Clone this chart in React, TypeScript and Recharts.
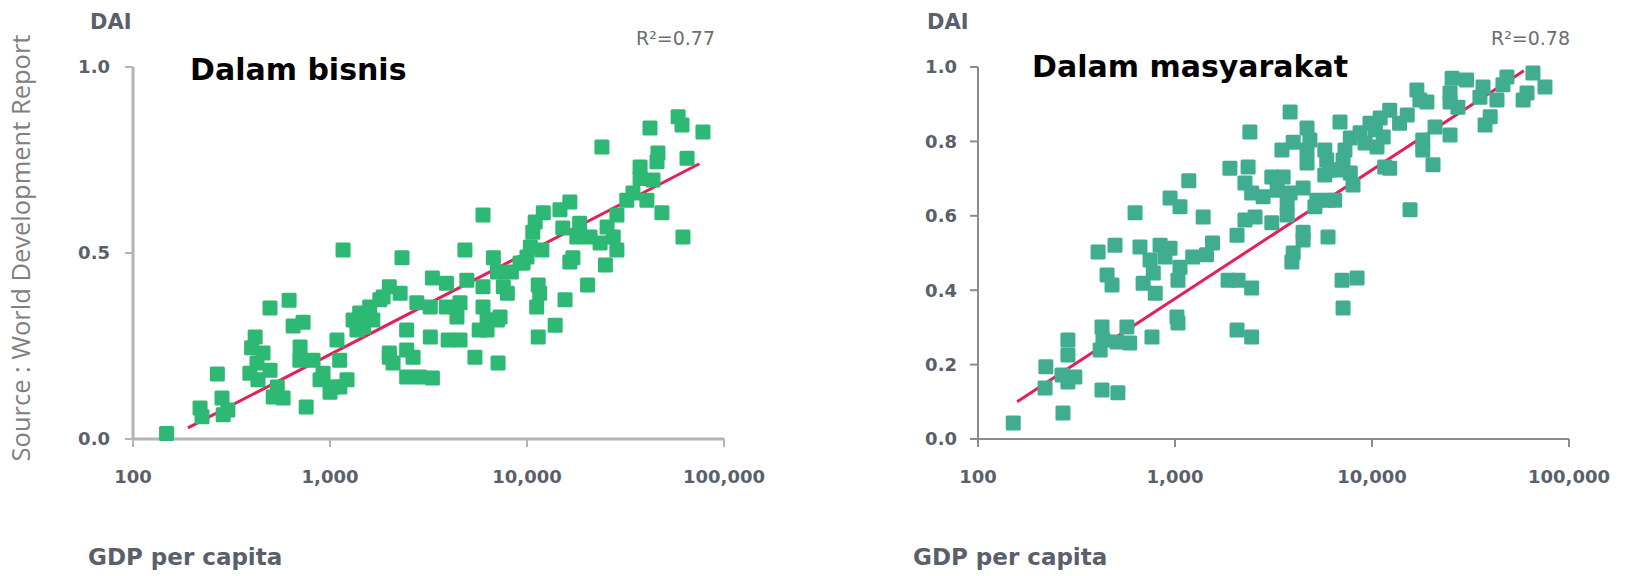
import { ScatterChart, Scatter, XAxis, YAxis, ReferenceLine } from 'recharts';

// GDP per capita axis (log) and DAI axis ticks
const xTicks = [100, 1000, 10000, 100000];
const bisnisYTicks = [0, 0.5, 1];
const masyarakatYTicks = [0, 0.2, 0.4, 0.6, 0.8, 1];

// Dalam bisnis
const bisnisGdp = [
  148, 219, 283, 268, 303, 287, 224, 417, 400, 426,
  431, 496, 620, 650, 730, 705, 496, 515, 578, 540,
  757, 820, 922, 1035, 1085, 1120, 1220, 1165, 1415, 1370,
  1590, 1790, 2000, 2270, 2320, 2000, 2090, 2450, 2860, 3310,
  2450, 2760, 3230, 3310, 3230, 1480, 2640, 457, 392, 703,
  890, 1122, 1000, 1310, 1650, 1860, 2450, 2000, 5720, 7300,
  58500, 61200, 78200, 42100, 24000, 46200, 45700, 64900, 37500, 37500,
  43600, 34500, 40600, 48400, 61900, 32100, 28600, 25500, 27400, 28600,
  25000, 23500, 20900, 18500, 16500, 14700, 12100, 11000, 10700, 15200,
  17900, 17100, 16500, 20300, 15600, 13900, 11400, 11200, 11600, 11400,
  10000, 10400, 9550, 11900, 5980, 4840, 6750, 7080, 8330, 9220,
  3900, 4950, 5980, 7580, 7950, 3900, 4570, 4410, 5980, 6270,
  7080, 6270, 3980, 4570, 5440, 7130,
];
const bisnisDai = [
  0.015, 0.083, 0.11, 0.175, 0.078, 0.065, 0.06, 0.274, 0.245, 0.204,
  0.159, 0.352, 0.373, 0.304, 0.314, 0.247, 0.185, 0.113, 0.11, 0.14,
  0.086, 0.212, 0.177, 0.14, 0.266, 0.212, 0.159, 0.508, 0.339, 0.293,
  0.355, 0.374, 0.409, 0.392, 0.487, 0.231, 0.204, 0.167, 0.167, 0.164,
  0.239, 0.366, 0.274, 0.433, 0.355, 0.301, 0.22, 0.231, 0.177, 0.212,
  0.159, 0.14, 0.126, 0.32, 0.32, 0.382, 0.293, 0.22, 0.293, 0.328,
  0.866, 0.844, 0.825, 0.836, 0.785, 0.769, 0.745, 0.755, 0.731, 0.7,
  0.696, 0.661, 0.642, 0.608, 0.543, 0.642, 0.602, 0.57, 0.543, 0.508,
  0.468, 0.527, 0.543, 0.58, 0.637, 0.616, 0.608, 0.583, 0.556, 0.567,
  0.543, 0.487, 0.476, 0.414, 0.374, 0.306, 0.274, 0.355, 0.392, 0.414,
  0.489, 0.516, 0.473, 0.508, 0.602, 0.508, 0.487, 0.449, 0.449, 0.473,
  0.419, 0.427, 0.409, 0.409, 0.392, 0.355, 0.366, 0.328, 0.355, 0.32,
  0.32, 0.293, 0.266, 0.266, 0.22, 0.204,
];
const bisnisTrendGdp = [190, 75000];
const bisnisTrendDai = [0.03, 0.74];

// Dalam masyarakat
const masyarakatGdp = [
  151, 270, 219, 221, 286, 286, 310, 286, 267, 426,
  513, 426, 431, 417, 507, 589, 570, 764, 1023, 1035,
  2065, 407, 496, 452, 479, 664, 840, 944, 689, 794,
  776, 747, 1060, 1035, 1230, 1445, 1550, 1860, 627, 944,
  1060, 1175, 1390, 1900, 2350, 2265, 2450, 3100, 3300, 2265,
  2550, 3100, 2065, 890, 2090, 2450, 2450, 65600, 75500, 61200,
  58500, 48400, 46200, 43100, 36600, 35300, 37500, 39800, 30200, 25500,
  24900, 24900, 27300, 16900, 17500, 19000, 12300, 11000, 15100, 13800,
  20900, 24900, 18100, 18100, 20400, 11400, 10400, 9770, 10600, 11600,
  9220, 7760, 6880, 8700, 7290, 7130, 5890, 6120, 4680, 4680,
  4680, 3840, 3490, 3980, 4840, 5760, 7760, 8010, 6720, 5760,
  3540, 3840, 4470, 3710, 2800, 3710, 5250, 5980, 6460, 5130,
  4470, 4470, 5980, 3980, 3920, 15600, 12300, 7050, 8400, 7130,
  2400,
];
const masyarakatDai = [
  0.043, 0.07, 0.137, 0.194, 0.226, 0.266, 0.167, 0.153, 0.172, 0.132,
  0.124, 0.301, 0.266, 0.239, 0.261, 0.258, 0.301, 0.274, 0.328, 0.312,
  0.293, 0.503, 0.521, 0.441, 0.414, 0.516, 0.521, 0.513, 0.419, 0.392,
  0.446, 0.481, 0.462, 0.427, 0.489, 0.495, 0.527, 0.427, 0.608, 0.648,
  0.624, 0.694, 0.597, 0.728, 0.731, 0.688, 0.661, 0.704, 0.669, 0.589,
  0.597, 0.581, 0.548, 0.489, 0.427, 0.406, 0.274, 0.984, 0.946, 0.93,
  0.911, 0.973, 0.952, 0.911, 0.946, 0.919, 0.844, 0.866, 0.965, 0.97,
  0.93, 0.906, 0.892, 0.938, 0.911, 0.906, 0.884, 0.863, 0.871, 0.849,
  0.839, 0.817, 0.804, 0.777, 0.737, 0.812, 0.831, 0.849, 0.785, 0.731,
  0.796, 0.809, 0.852, 0.823, 0.777, 0.75, 0.75, 0.723, 0.742, 0.777,
  0.836, 0.879, 0.777, 0.798, 0.804, 0.777, 0.715, 0.683, 0.723, 0.71,
  0.704, 0.661, 0.675, 0.634, 0.651, 0.602, 0.642, 0.642, 0.642, 0.624,
  0.556, 0.535, 0.543, 0.5, 0.476, 0.616, 0.728, 0.427, 0.433, 0.352,
  0.825,
];
const masyarakatTrendGdp = [158, 59000];
const masyarakatTrendDai = [0.1, 0.99];

const toPoints = (gdp: number[], dai: number[]) => gdp.map((g, i) => ({ gdp: g, dai: dai[i] }));

const labelColor = '#5a5f6b';
const labelFont = 'DejaVu Sans, sans-serif';

type PanelProps = {
  left: number;
  gdp: number[];
  dai: number[];
  trendGdp: number[];
  trendDai: number[];
  yTicks: number[];
  color: string;
  axisColor: string;
  axisWidth: number;
  yTickMargin: number;
};

function Panel({ left, gdp, dai, trendGdp, trendDai, yTicks, color, axisColor, axisWidth, yTickMargin }: PanelProps) {
  const points = toPoints(gdp, dai);
  const trend = toPoints(trendGdp, trendDai);
  const tickStyle = { fill: labelColor, fontSize: 18, fontWeight: 700, fontFamily: labelFont };
  const square = (p: any) => (
    <rect x={p.cx - 7.5} y={p.cy - 7.5} width={15} height={15} rx={1.5} fill={color} />
  );
  return (
    <div style={{ position: 'absolute', left, top: 0 }}>
      <ScatterChart width={780} height={576} margin={{ top: 67, right: 56, bottom: 97, left: 73 }}>
        <XAxis
          dataKey="gdp"
          type="number"
          scale="log"
          domain={[100, 100000]}
          ticks={xTicks}
          interval={0}
          allowDataOverflow
          height={40}
          tickSize={8}
          tickMargin={23}
          tickFormatter={(v: number) => v.toLocaleString('en-US')}
          tick={tickStyle}
          axisLine={{ stroke: axisColor, strokeWidth: axisWidth }}
          tickLine={{ stroke: axisColor, strokeWidth: 2 }}
        />
        <YAxis
          dataKey="dai"
          type="number"
          domain={[0, 1]}
          ticks={yTicks}
          interval={0}
          width={60}
          tickSize={8}
          tickMargin={yTickMargin}
          tickFormatter={(v: number) => v.toFixed(1)}
          tick={tickStyle}
          axisLine={{ stroke: axisColor, strokeWidth: axisWidth }}
          tickLine={{ stroke: axisColor, strokeWidth: 2 }}
        />
        <Scatter data={points} fill={color} shape={square} isAnimationActive={false} />
        <ReferenceLine
          segment={[
            { x: trend[0].gdp, y: trend[0].dai },
            { x: trend[1].gdp, y: trend[1].dai },
          ]}
          stroke="#e2215b"
          strokeWidth={3}
        />
      </ScatterChart>
    </div>
  );
}

export default function App() {
  return (
    <div style={{ position: 'relative', width: 1626, height: 576, background: '#fff', overflow: 'hidden' }}>
      <style>{'body{margin:0}'}</style>
      <Panel
        left={0}
        gdp={bisnisGdp}
        dai={bisnisDai}
        trendGdp={bisnisTrendGdp}
        trendDai={bisnisTrendDai}
        yTicks={bisnisYTicks}
        color="#2db873"
        axisColor="#b4b4b4"
        axisWidth={3}
        yTickMargin={15}
      />
      <Panel
        left={845}
        gdp={masyarakatGdp}
        dai={masyarakatDai}
        trendGdp={masyarakatTrendGdp}
        trendDai={masyarakatTrendDai}
        yTicks={masyarakatYTicks}
        color="#40ad91"
        axisColor="#8c8c8c"
        axisWidth={2}
        yTickMargin={13}
      />
      <svg width={1626} height={576} style={{ position: 'absolute', left: 0, top: 0, pointerEvents: 'none' }}>
        <g fontFamily={labelFont}>
          <text x={90} y={29} fontSize={21} fontWeight={700} fill={labelColor}>DAI</text>
          <text x={927} y={29} fontSize={21} fontWeight={700} fill={labelColor}>DAI</text>
          <text x={715} y={45} fontSize={19} fill="#6e6e6e" textAnchor="end">R²=0.77</text>
          <text x={1570} y={45} fontSize={19} fill="#6e6e6e" textAnchor="end">R²=0.78</text>
          <text x={190} y={80} fontSize={30} fontWeight={700} fill="#000">Dalam bisnis</text>
          <text x={1032} y={77} fontSize={30} fontWeight={700} fill="#000">Dalam masyarakat</text>
          <text x={88} y={565} fontSize={23} fontWeight={700} fill={labelColor}>GDP per capita</text>
          <text x={913} y={565} fontSize={23} fontWeight={700} fill={labelColor}>GDP per capita</text>
        </g>
        <text
          transform="translate(30, 248) rotate(-90)"
          textAnchor="middle"
          fontFamily="Open Sans, sans-serif"
          fontSize={25.5}
          fill="#808080"
        >
          Source : World Development Report
        </text>
      </svg>
    </div>
  );
}
